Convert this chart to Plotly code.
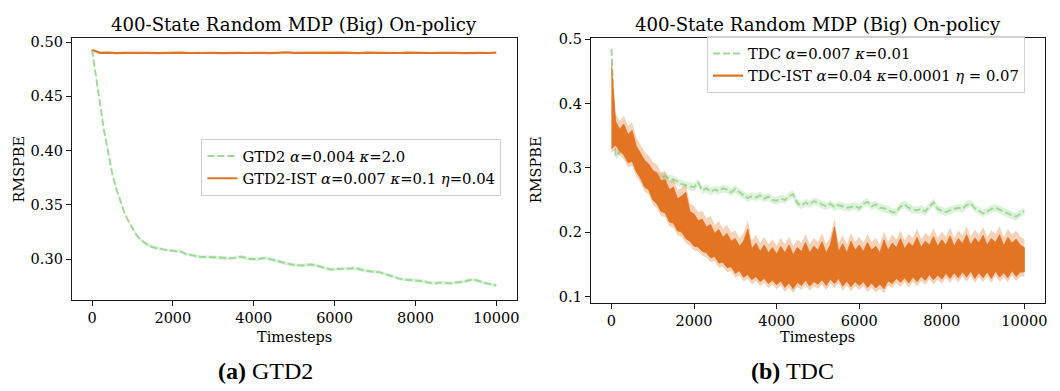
import plotly.graph_objects as go

# ---------------- data ----------------
step_fine = 100
# Panel (a): GTD2 (mean RMSPBE every 100 timesteps)
gtd2 = [
    0.493, 0.470, 0.443, 0.418, 0.397, 0.379, 0.365, 0.353, 0.343, 0.335,
    0.328, 0.322, 0.318, 0.315, 0.3125, 0.311, 0.310, 0.309, 0.3085, 0.308,
    0.3078, 0.3075, 0.307, 0.305, 0.304, 0.3033, 0.3025, 0.302, 0.3022, 0.302,
    0.3018, 0.3015, 0.301, 0.3005, 0.3008, 0.301, 0.3015, 0.3022, 0.301, 0.300,
    0.300, 0.2998, 0.3008, 0.301, 0.300, 0.299, 0.298, 0.2968, 0.296, 0.2952,
    0.2946, 0.2942, 0.294, 0.2945, 0.295, 0.2946, 0.2935, 0.292, 0.2912, 0.2905,
    0.2907, 0.291, 0.2912, 0.2915, 0.2913, 0.2915, 0.291, 0.2898, 0.289, 0.2885,
    0.2883, 0.288, 0.2868, 0.2855, 0.2843, 0.2832, 0.282, 0.2812, 0.281, 0.2805,
    0.280, 0.2803, 0.2795, 0.2785, 0.2778, 0.2778, 0.2783, 0.278, 0.2775, 0.2778,
    0.2784, 0.2786, 0.279, 0.2802, 0.281, 0.2805, 0.2795, 0.278, 0.2772, 0.2768,
    0.2757,
]
gtd2_err = 0.0016

# Panel (a): GTD2-IST (every 200 timesteps)
step_ist = 200
gtd2_ist = [
    0.4928, 0.4901, 0.4903, 0.4899, 0.4902, 0.4904, 0.4900, 0.4902, 0.4899, 0.4903,
    0.4901, 0.4904, 0.4900, 0.4902, 0.4905, 0.4901, 0.4899, 0.4903, 0.4902, 0.4900,
    0.4904, 0.4902, 0.4899, 0.4903, 0.4905, 0.4901, 0.4902, 0.4904, 0.4900, 0.4903,
    0.4901, 0.4904, 0.4902, 0.4899, 0.4903, 0.4901, 0.4905, 0.4902, 0.4900, 0.4904,
    0.4901, 0.4903, 0.4900, 0.4902, 0.4904, 0.4901, 0.4899, 0.4903, 0.4902, 0.4900,
    0.4903,
]

# Panel (b): TDC (mean every 100 timesteps)
tdc = [
    0.485, 0.318, 0.325, 0.332, 0.328, 0.322, 0.318, 0.310, 0.302, 0.296,
    0.290, 0.288, 0.285, 0.287, 0.283, 0.282, 0.278, 0.275, 0.273, 0.271,
    0.270, 0.277, 0.265, 0.268, 0.263, 0.266, 0.264, 0.268, 0.266, 0.262,
    0.267, 0.262, 0.258, 0.253, 0.256, 0.254, 0.257, 0.252, 0.255, 0.250,
    0.249, 0.252, 0.250, 0.256, 0.259, 0.245, 0.241, 0.246, 0.243, 0.248,
    0.246, 0.243, 0.240, 0.244, 0.239, 0.242, 0.240, 0.238, 0.239, 0.241,
    0.237, 0.244, 0.247, 0.240, 0.243, 0.238, 0.237, 0.235, 0.231, 0.231,
    0.240, 0.243, 0.238, 0.235, 0.234, 0.236, 0.232, 0.240, 0.246, 0.236,
    0.233, 0.231, 0.234, 0.236, 0.238, 0.236, 0.242, 0.245, 0.237, 0.233,
    0.229, 0.232, 0.236, 0.238, 0.235, 0.231, 0.228, 0.226, 0.224, 0.228,
    0.233,
]
tdc_err = 0.006

# Panel (b): TDC-IST, extent of the (very noisy) curve every 100 timesteps
tdc_ist_hi = [
    0.458, 0.372, 0.360, 0.368, 0.352, 0.358, 0.334, 0.322, 0.312, 0.306,
    0.296, 0.292, 0.280, 0.282, 0.266, 0.270, 0.252, 0.256, 0.262, 0.232,
    0.228, 0.218, 0.220, 0.208, 0.212, 0.198, 0.204, 0.192, 0.198, 0.186,
    0.190, 0.178, 0.186, 0.205, 0.174, 0.183, 0.170, 0.180, 0.168, 0.176,
    0.166, 0.178, 0.168, 0.180, 0.165, 0.176, 0.170, 0.184, 0.168, 0.178,
    0.172, 0.185, 0.168, 0.180, 0.208, 0.170, 0.182, 0.168, 0.186, 0.172,
    0.180, 0.170, 0.184, 0.172, 0.178, 0.168, 0.188, 0.172, 0.183, 0.176,
    0.190, 0.174, 0.184, 0.178, 0.192, 0.176, 0.186, 0.180, 0.193, 0.178,
    0.188, 0.180, 0.194, 0.178, 0.190, 0.182, 0.196, 0.180, 0.191, 0.183,
    0.195, 0.180, 0.190, 0.184, 0.196, 0.179, 0.192, 0.183, 0.189, 0.180,
    0.176,
]
tdc_ist_lo = [
    0.330, 0.335, 0.326, 0.320, 0.308, 0.310, 0.294, 0.284, 0.270, 0.266,
    0.250, 0.244, 0.232, 0.230, 0.216, 0.214, 0.202, 0.200, 0.190, 0.186,
    0.178, 0.177, 0.170, 0.168, 0.160, 0.162, 0.152, 0.153, 0.145, 0.146,
    0.136, 0.140, 0.130, 0.134, 0.126, 0.131, 0.123, 0.128, 0.120, 0.125,
    0.118, 0.124, 0.114, 0.121, 0.112, 0.122, 0.117, 0.125, 0.116, 0.123,
    0.119, 0.126, 0.117, 0.127, 0.120, 0.128, 0.116, 0.124, 0.115, 0.123,
    0.117, 0.123, 0.114, 0.121, 0.113, 0.119, 0.112, 0.124, 0.120, 0.128,
    0.122, 0.129, 0.121, 0.130, 0.123, 0.131, 0.125, 0.134, 0.126, 0.133,
    0.127, 0.136, 0.128, 0.137, 0.129, 0.138, 0.130, 0.139, 0.128, 0.137,
    0.129, 0.138, 0.128, 0.139, 0.130, 0.137, 0.129, 0.140, 0.131, 0.138,
    0.138,
]
tdc_ist_err_up = 0.013
tdc_ist_err_dn = 0.007

x_ticks = [0, 2000, 4000, 6000, 8000, 10000]
y_ticks_a = [0.30, 0.35, 0.40, 0.45, 0.50]
y_ticks_b = [0.1, 0.2, 0.3, 0.4, 0.5]

title_text = "400-State Random MDP (Big) On-policy"
leg_gtd2 = "GTD2 <i>α</i>=0.004 <i>κ</i>=2.0"
leg_gtd2_ist = "GTD2-IST <i>α</i>=0.007 <i>κ</i>=0.1 <i>η</i>=0.04"
leg_tdc = "TDC <i>α</i>=0.007 <i>κ</i>=0.01"
leg_tdc_ist = "TDC-IST <i>α</i>=0.04 <i>κ</i>=0.0001 <i>η</i> = 0.07"

# ---------------- styling ----------------
GREEN = "#a1d99b"
GREEN_BAND = "rgba(161,217,155,0.35)"
ORANGE = "#e37424"
ORANGE_BAND = "rgba(227,116,36,0.32)"
FONT = "DejaVu Serif"
TXT = "#000000"
W, H = 1060, 391

def px(xp):
    return xp / W

def py(yp):
    return 1 - yp / H

x_f = [i * step_fine for i in range(len(gtd2))]
x_ist = [i * step_ist for i in range(len(gtd2_ist))]
x_b = [i * step_fine for i in range(len(tdc))]

fig = go.Figure()

# ---- panel (a)
fig.add_trace(go.Scatter(
    x=x_f + x_f[::-1],
    y=[v + gtd2_err for v in gtd2] + [v - gtd2_err for v in gtd2][::-1],
    fill="toself", fillcolor=GREEN_BAND, line=dict(width=0), mode="lines",
    hoverinfo="skip", showlegend=False, xaxis="x", yaxis="y"))
fig.add_trace(go.Scatter(
    x=x_f, y=gtd2, mode="lines", name=leg_gtd2,
    line=dict(color=GREEN, width=2, dash="7px,3px"),
    xaxis="x", yaxis="y", legend="legend"))
fig.add_trace(go.Scatter(
    x=x_ist, y=gtd2_ist, mode="lines", name=leg_gtd2_ist,
    line=dict(color=ORANGE, width=2.2),
    xaxis="x", yaxis="y", legend="legend"))

# ---- panel (b)
fig.add_trace(go.Scatter(
    x=x_b + x_b[::-1],
    y=[v + tdc_err for v in tdc] + [v - tdc_err for v in tdc][::-1],
    fill="toself", fillcolor=GREEN_BAND, line=dict(width=0), mode="lines",
    hoverinfo="skip", showlegend=False, xaxis="x2", yaxis="y2"))
fig.add_trace(go.Scatter(
    x=x_b, y=tdc, mode="lines", name=leg_tdc,
    line=dict(color=GREEN, width=2, dash="7px,3px"),
    xaxis="x2", yaxis="y2", legend="legend2"))
fig.add_trace(go.Scatter(
    x=x_b + x_b[::-1],
    y=[v + tdc_ist_err_up for v in tdc_ist_hi] + [v - tdc_ist_err_dn for v in tdc_ist_lo][::-1],
    fill="toself", fillcolor=ORANGE_BAND, line=dict(width=0), mode="lines",
    hoverinfo="skip", showlegend=False, xaxis="x2", yaxis="y2"))
fig.add_trace(go.Scatter(
    x=x_b + x_b[::-1],
    y=tdc_ist_hi + tdc_ist_lo[::-1],
    fill="toself", fillcolor=ORANGE, line=dict(width=0.8, color=ORANGE), mode="lines",
    hoverinfo="skip", showlegend=False, xaxis="x2", yaxis="y2"))
fig.add_trace(go.Scatter(
    x=[None], y=[None], mode="lines", name=leg_tdc_ist,
    line=dict(color=ORANGE, width=2.2),
    xaxis="x2", yaxis="y2", legend="legend2"))

axis_common = dict(
    showgrid=False, zeroline=False, showline=True, linecolor="#1a1a1a",
    linewidth=1, mirror=True, ticks="outside", ticklen=5, tickwidth=1,
    tickcolor="#1a1a1a", tickfont=dict(family=FONT, size=14.5, color=TXT),
)

legend_common = dict(
    xanchor="left", yanchor="top",
    bgcolor="rgba(255,255,255,0.8)", bordercolor="#d0d0d0", borderwidth=1,
    font=dict(family=FONT, size=14.8, color=TXT), tracegroupgap=0,
)

fig.update_layout(
    width=W, height=H,
    margin=dict(l=0, r=0, t=0, b=0),
    paper_bgcolor="white", plot_bgcolor="white",
    font=dict(family=FONT, size=14.5, color=TXT),
    xaxis=dict(domain=[px(72), px(518)], range=[-500, 10500],
               tickvals=x_ticks, tickformat="d", anchor="y", **axis_common),
    yaxis=dict(domain=[py(300), py(32)], range=[0.2622, 0.5036],
               tickvals=y_ticks_a, tickformat=".2f", anchor="x", **axis_common),
    xaxis2=dict(domain=[px(592.5), px(1048)], range=[-500, 10500],
                tickvals=x_ticks, tickformat="d", anchor="y2", **axis_common),
    yaxis2=dict(domain=[py(302.5), py(32)], range=[0.0905, 0.5015],
                tickvals=y_ticks_b, tickformat=".1f", anchor="x2", **axis_common),
    legend=dict(x=px(202), y=py(135), **legend_common),
    legend2=dict(x=px(709), y=py(30), **legend_common),
    showlegend=True,
)

annotations = []
for cx in (295, 820):
    annotations.append(dict(text=title_text, x=px(cx), y=py(18), xref="paper", yref="paper",
                            showarrow=False, xanchor="center", yanchor="middle",
                            font=dict(family=FONT, size=18.1, color=TXT)))
    annotations.append(dict(text="Timesteps", x=px(cx), y=py(337.5), xref="paper", yref="paper",
                            showarrow=False, xanchor="center", yanchor="middle",
                            font=dict(family=FONT, size=14.5, color=TXT)))
for lx in (19.5, 537.5):
    annotations.append(dict(text="RMSPBE", x=px(lx), y=py(166), xref="paper", yref="paper",
                            showarrow=False, xanchor="center", yanchor="middle", textangle=-90,
                            font=dict(family=FONT, size=14.5, color=TXT)))
annotations.append(dict(text="<b>(a)</b> GTD2", x=px(266), y=py(373), xref="paper", yref="paper",
                        showarrow=False, xanchor="center", yanchor="middle",
                        font=dict(family="Liberation Serif", size=24, color=TXT)))
annotations.append(dict(text="<b>(b)</b> TDC", x=px(795), y=py(373), xref="paper", yref="paper",
                        showarrow=False, xanchor="center", yanchor="middle",
                        font=dict(family="Liberation Serif", size=24, color=TXT)))
fig.update_layout(annotations=annotations)

fig.write_html("out.html",
               config={"displayModeBar": False},
               post_script="document.body.style.margin='0';document.body.style.overflow='hidden';")
